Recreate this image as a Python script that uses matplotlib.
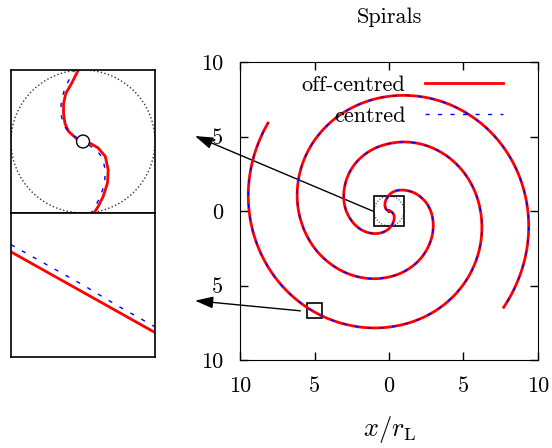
import numpy as np
import matplotlib
matplotlib.use('Agg')
import matplotlib.pyplot as plt
from matplotlib.patches import Rectangle, Circle

plt.rcParams['font.family'] = ['cmr10', 'DejaVu Serif']
plt.rcParams['mathtext.fontset'] = 'cm'
plt.rcParams['font.size'] = 16

theta_a = [156, 150, 140, 130, 120, 110, 100, 90, 80, 70, 60, 50, 40, 30, 20, 10, 0,
           -10, -20, -30, -40, -50, -60, -70, -80, -90, -100, -110, -120, -130, -140,
           -150, -160, -170, -180, -190, -200, -210, -220, -230, -240, -250, -260, -270,
           -280, -290, -300, -310, -320, -330, -340, -350, -360, -370, -380, -390, -400]
r_a = [0.10, 0.19, 0.30, 0.41, 0.55, 0.70, 0.85, 1.07, 1.27, 1.45, 1.62, 1.80, 2.00, 2.20,
       2.40, 2.61, 2.80, 2.98, 3.16, 3.34, 3.52, 3.71, 3.90, 4.08, 4.26, 4.43, 4.61, 4.79,
       4.97, 5.15, 5.33, 5.52, 5.70, 5.88, 6.07, 6.26, 6.45, 6.64, 6.83, 7.01, 7.19, 7.36,
       7.53, 7.70, 7.87, 8.05, 8.23, 8.41, 8.60, 8.78, 8.96, 9.14, 9.32, 9.50, 9.68, 9.86,
       10.05]
theta_b = [-13, -20, -30, -40, -50, -60, -70, -80, -90, -100, -110, -120, -130, -140, -150,
           -160, -170, -180, -190, -200, -210, -220, -230, -240, -250, -260, -270, -280,
           -290, -300, -310, -320, -330, -340, -350, -360, -370, -380, -390, -400, -410,
           -420, -430, -440, -450, -460, -470, -480, -490, -500, -510, -520, -530, -540,
           -550, -560, -570, -576]
r_b = [0.11, 0.19, 0.31, 0.43, 0.55, 0.67, 0.82, 0.99, 1.18, 1.37, 1.56, 1.75, 1.94, 2.13,
       2.32, 2.50, 2.68, 2.87, 3.05, 3.23, 3.42, 3.62, 3.82, 4.01, 4.19, 4.36, 4.52, 4.70,
       4.88, 5.06, 5.24, 5.42, 5.60, 5.78, 5.96, 6.14, 6.33, 6.53, 6.73, 6.93, 7.12, 7.30,
       7.47, 7.63, 7.79, 7.96, 8.13, 8.31, 8.49, 8.67, 8.85, 9.03, 9.21, 9.39, 9.57, 9.75,
       9.93, 10.04]

# zoom on the centre (top inset)
off_up_x = [-0.09, -0.20, -0.25, -0.27, -0.27, -0.24, -0.16, -0.06]
off_up_y = [0.04, 0.14, 0.25, 0.39, 0.53, 0.67, 0.81, 1.01]
off_dn_x = [0.11, 0.21, 0.31, 0.35, 0.34, 0.28, 0.21, 0.145]
off_dn_y = [-0.03, -0.09, -0.21, -0.40, -0.58, -0.77, -0.91, -1.01]
cen_up_x = [-0.08, -0.19, -0.27, -0.31, -0.30, -0.25, -0.18, -0.11]
cen_up_y = [0.05, 0.12, 0.23, 0.40, 0.58, 0.75, 0.89, 1.01]
cen_dn_x = [0.08, 0.19, 0.27, 0.31, 0.30, 0.25, 0.18, 0.11]
cen_dn_y = [-0.05, -0.12, -0.23, -0.40, -0.58, -0.75, -0.89, -1.01]

# zoom on the outer arm (bottom inset)
low_x = [-5.5, -5.25, -5.0, -4.75, -4.5]
low_off_y = [-6.47, -6.61, -6.75, -6.89, -7.03]
low_cen_y = [-6.42, -6.56, -6.70, -6.85, -6.99]

ticks = [-10, -5, 0, 5, 10]
tick_labels = ['10', '5', '0', '5', '10']

W, H = 552, 448


def px_rect(x0, y0, x1, y1):
    return [x0 / W, 1 - y1 / H, (x1 - x0) / W, (y1 - y0) / H]


fig = plt.figure(figsize=(W / 100, H / 100), dpi=100)

ax = fig.add_axes(px_rect(240, 62, 538, 360))
ax.set_xlim(-10, 10)
ax.set_ylim(-10, 10)
ax.set_xticks(ticks)
ax.set_xticklabels(tick_labels)
ax.set_yticks(ticks)
ax.set_yticklabels(tick_labels)
ax.tick_params(direction='in', length=6, width=1, top=True, right=True, pad=12,
               labelsize=16)
ax.set_xlabel(r'$x/r_\mathrm{L}$', labelpad=13, fontsize=19)
ax.set_title('Spirals', pad=28, fontsize=16)

ax.add_patch(Circle((0, 0), 1, fill=False, ls=':', lw=0.8, color='0.2'))
ax.add_patch(Circle((0, 0), 0.09, fc='white', ec='k', lw=0.8, zorder=5))
ax.add_patch(Rectangle((-1, -1), 2, 2, fill=False, lw=1.2, zorder=4))
ax.add_patch(Rectangle((-5.5, -7.2), 1, 1, fill=False, lw=1.2, zorder=4))

arrow = dict(arrowstyle='-|>,head_length=0.55,head_width=0.18', color='k', lw=1,
             shrinkA=0, shrinkB=0, mutation_scale=20)
ax.annotate('', xy=(195 / W, 1 - 136 / H), xycoords='figure fraction',
            xytext=(-1.1, 0.0), textcoords='data', arrowprops=arrow)
ax.annotate('', xy=(195 / W, 1 - 300.7 / H), xycoords='figure fraction',
            xytext=(-5.95, -6.7), textcoords='data', arrowprops=arrow)

# spirals drawn on a transparent polar axes sitting on top of the main one
pax = fig.add_axes(ax.get_position(), projection='polar')
pax.set_ylim(0, 10)
pax.set_axis_off()
pax.plot(np.deg2rad(theta_a), r_a, color='red', lw=2, clip_on=False, label='off-centred')
pax.plot(np.deg2rad(theta_a), r_a, color='blue', lw=1, dashes=(3, 6), clip_on=False,
         label='centred')
pax.plot(np.deg2rad(theta_b), r_b, color='red', lw=2, clip_on=False)
pax.plot(np.deg2rad(theta_b), r_b, color='blue', lw=1, dashes=(3, 6), clip_on=False)
# let the polar transform draw each segment as a curve, like the gridlines
for ln in pax.get_lines():
    ln.get_path()._interpolation_steps = 12
pax.legend(loc='upper right', bbox_to_anchor=(0.911, 0.985), borderaxespad=0,
           frameon=False, markerfirst=False, handlelength=3.5, handletextpad=0.86,
           fontsize=16)

# top inset
ins1 = fig.add_axes(px_rect(11, 70, 155, 213))
ins1.set_xlim(-1, 1)
ins1.set_ylim(-1, 1)
ins1.set_xticks([])
ins1.set_yticks([])
ins1.add_patch(Circle((0, 0), 1, fill=False, ls=':', lw=1, color='0.2'))
ins1.plot(off_up_x, off_up_y, color='red', lw=2)
ins1.plot(off_dn_x, off_dn_y, color='red', lw=2)
ins1.plot(cen_up_x, cen_up_y, color='blue', lw=1, dashes=(3, 6))
ins1.plot(cen_dn_x, cen_dn_y, color='blue', lw=1, dashes=(3, 6))
ins1.add_patch(Circle((0, 0), 0.09, fc='white', ec='k', lw=1, zorder=5))
for s in ins1.spines.values():
    s.set_linewidth(1.2)

# bottom inset
ins2 = fig.add_axes(px_rect(11, 213, 155, 357))
ins2.set_xlim(-5.5, -4.5)
ins2.set_ylim(-7.2, -6.2)
ins2.set_xticks([])
ins2.set_yticks([])
ins2.plot(low_x, low_off_y, color='red', lw=2)
ins2.plot(low_x, low_cen_y, color='blue', lw=1, dashes=(3, 6))
for s in ins2.spines.values():
    s.set_linewidth(1.2)

fig.savefig('out.png', dpi=100)
